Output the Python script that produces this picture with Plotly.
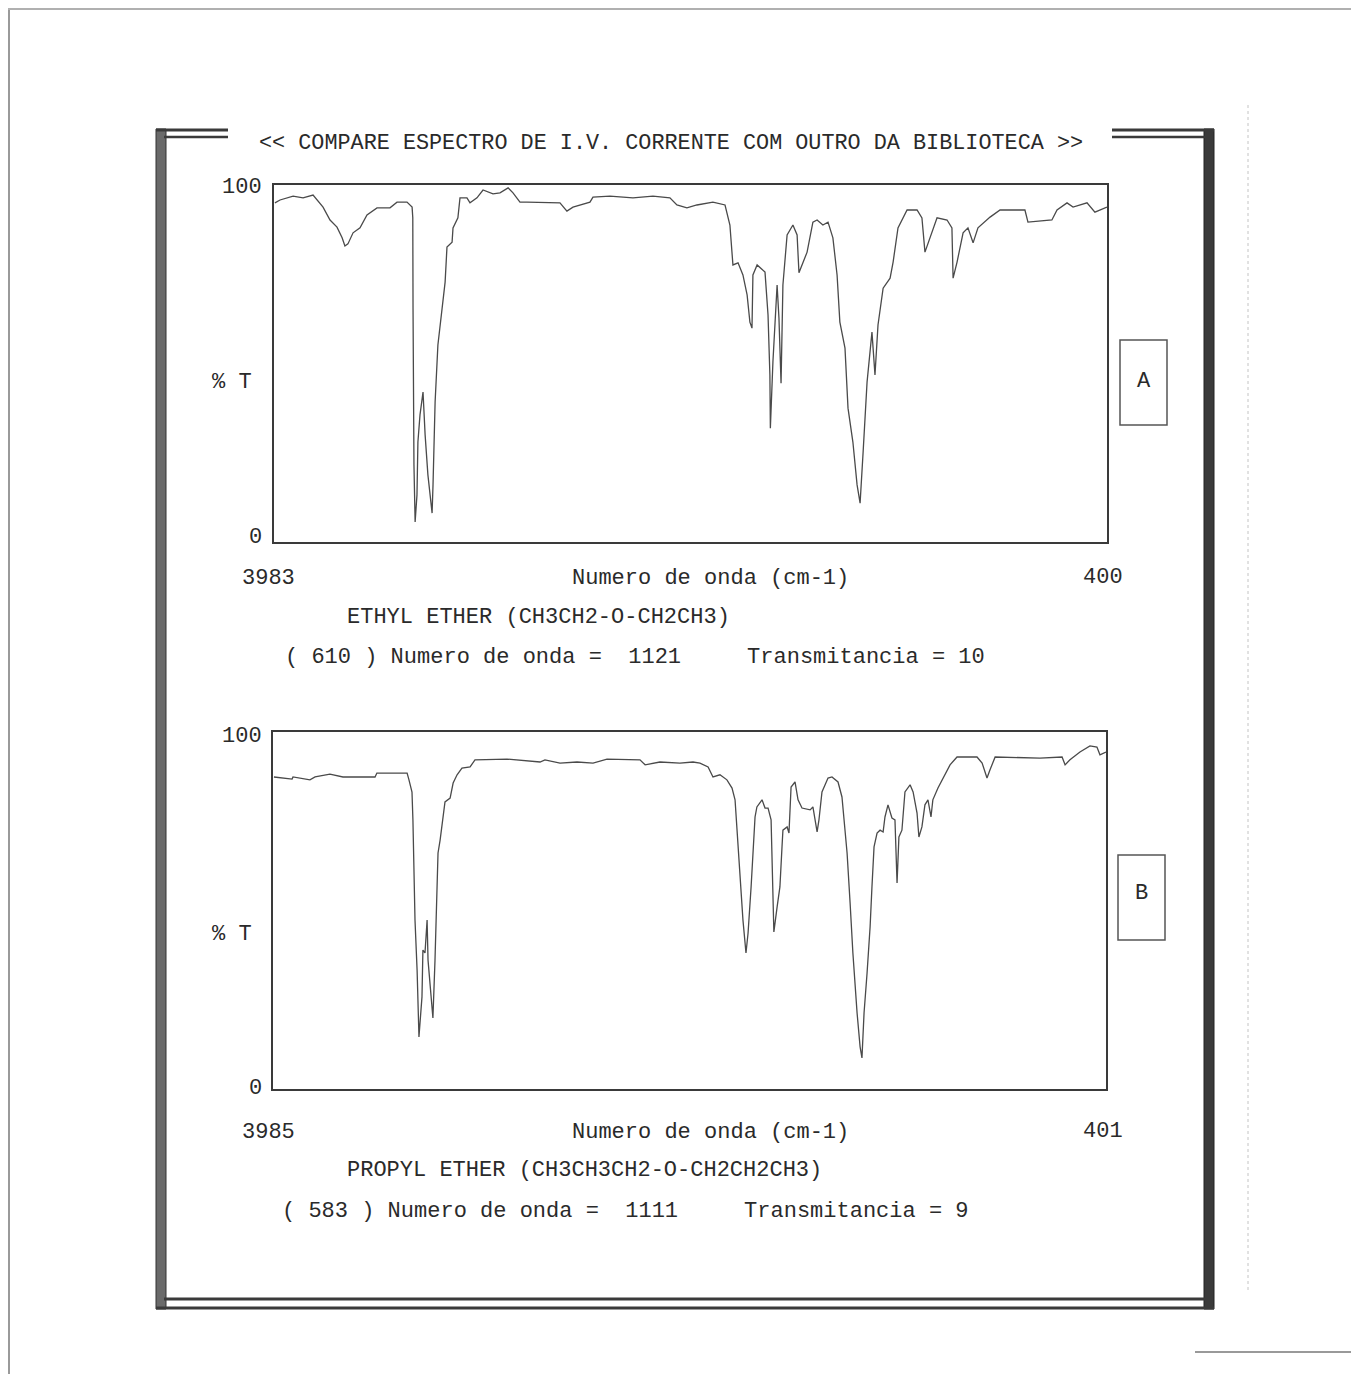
import plotly.graph_objects as go

# ---------------- data ----------------
wn_a = [3979, 3957, 3901, 3858, 3815, 3798, 3772, 3742, 3712, 3690, 3678, 3665, 3643, 3613,
        3583, 3540, 3484, 3454, 3411, 3389, 3386, 3385, 3384, 3381, 3376, 3368, 3364, 3355,
        3342, 3333, 3321, 3303, 3299, 3290, 3278, 3260, 3247, 3239, 3217, 3213, 3192, 3183,
        3153, 3140, 3110, 3084, 3041, 3011, 2976, 2955, 2925, 2895, 2753, 2723, 2697, 2624,
        2611, 2538, 2482, 2439, 2353, 2280, 2250, 2207, 2164, 2095, 2043, 2022, 2009, 1987,
        1966, 1948, 1936, 1927, 1923, 1905, 1871, 1858, 1850, 1848, 1837, 1819, 1811, 1802,
        1794, 1776, 1751, 1733, 1725, 1708, 1690, 1665, 1647, 1622, 1600, 1579, 1561, 1549,
        1527, 1514, 1493, 1475, 1462, 1449, 1432, 1411, 1398, 1385, 1363, 1333, 1320, 1299,
        1260, 1217, 1196, 1183, 1161, 1131, 1088, 1067, 1062, 1045, 1019, 998, 976, 955,
        903, 860, 753, 740, 637, 615, 572, 546, 486, 452, 400]
t_a = [95.0, 95.8, 96.9, 96.4, 97.2, 95.8, 93.8, 90.2, 88.2, 85.2, 82.9, 83.5, 86.6, 88.0,
       91.6, 93.6, 93.6, 95.2, 95.2, 93.8, 90.8, 65.5, 44.8, 21.6, 5.6, 13.2, 28.0, 35.6,
       42.0, 30.0, 18.8, 8.1, 16.0, 39.2, 55.2, 65.5, 72.8, 82.6, 84.0, 88.0, 90.8, 96.4,
       96.4, 95.0, 96.4, 98.6, 97.5, 97.8, 99.2, 97.8, 95.2, 95.2, 95.0, 92.7, 93.8, 95.2,
       96.6, 96.9, 96.6, 96.4, 96.9, 96.4, 94.4, 93.6, 94.4, 95.2, 94.4, 88.8, 77.6, 78.2,
       74.8, 69.2, 61.6, 59.9, 74.8, 77.6, 75.6, 63.6, 46.8, 31.9, 50.4, 72.0, 62.7, 44.5,
       72.0, 86.0, 88.8, 86.0, 75.4, 78.4, 81.2, 89.6, 90.2, 88.8, 89.6, 85.2, 74.8, 61.6,
       54.3, 37.5, 28.0, 16.0, 10.9, 25.2, 44.8, 58.8, 46.8, 60.8, 71.1, 73.9, 78.4, 88.0,
       93.0, 93.0, 90.8, 81.2, 85.2, 90.8, 90.2, 88.0, 73.9, 78.4, 86.6, 88.0, 83.8, 88.0,
       91.0, 93.0, 93.0, 89.6, 90.2, 93.0, 95.0, 93.8, 95.0, 92.4, 93.8]

wn_b = [3981, 3903, 3899, 3826, 3804, 3740, 3684, 3546, 3538, 3408, 3400, 3387, 3383, 3378,
        3374, 3365, 3361, 3357, 3344, 3340, 3331, 3322, 3318, 3305, 3297, 3288, 3279, 3275,
        3266, 3254, 3245, 3223, 3210, 3193, 3172, 3137, 3116, 2978, 2836, 2815, 2750, 2677,
        2608, 2548, 2406, 2384, 2320, 2234, 2178, 2148, 2113, 2092, 2062, 2032, 2010, 1997,
        1989, 1976, 1963, 1950, 1941, 1928, 1920, 1911, 1903, 1881, 1868, 1855, 1842, 1838,
        1834, 1830, 1816, 1804, 1795, 1791, 1773, 1765, 1756, 1739, 1726, 1709, 1674, 1662,
        1644, 1636, 1623, 1597, 1580, 1554, 1537, 1524, 1515, 1502, 1490, 1472, 1459, 1451,
        1442, 1429, 1416, 1408, 1399, 1386, 1373, 1360, 1352, 1339, 1322, 1309, 1300, 1292,
        1279, 1266, 1244, 1231, 1214, 1206, 1193, 1180, 1167, 1154, 1146, 1124, 1094, 1072,
        1042, 956, 934, 913, 900, 878, 685, 590, 577, 556, 513, 470, 440, 427, 401]
t_b = [87.4, 86.8, 87.4, 86.6, 87.4, 88.2, 87.4, 87.4, 88.5, 88.5, 86.6, 83.2, 75.4, 61.3,
       47.3, 33.3, 23.0, 14.6, 25.8, 38.9, 38.1, 47.3, 36.1, 25.8, 19.9, 36.1, 53.8, 66.1,
       69.7, 76.2, 80.4, 81.5, 85.7, 88.0, 89.9, 90.2, 92.2, 92.4, 91.6, 92.2, 91.3, 91.6,
       91.3, 92.4, 92.2, 90.8, 91.6, 91.3, 91.6, 91.3, 90.2, 87.4, 88.0, 86.6, 84.3, 81.0,
       73.4, 61.3, 47.3, 38.1, 43.7, 56.6, 67.8, 76.2, 79.0, 81.0, 78.7, 78.7, 75.4, 64.1,
       47.3, 44.0, 51.0, 56.6, 67.8, 72.5, 73.4, 71.7, 84.6, 86.0, 81.0, 78.7, 78.2, 79.0,
       72.0, 75.4, 83.2, 87.1, 87.4, 86.0, 81.8, 72.5, 66.1, 52.1, 38.1, 21.3, 11.8, 8.7,
       21.3, 32.5, 45.4, 56.6, 67.8, 71.7, 72.5, 72.0, 76.2, 79.6, 75.9, 75.4, 57.7, 70.6,
       72.5, 83.2, 85.2, 83.2, 77.3, 70.6, 73.4, 79.6, 81.0, 76.2, 81.0, 84.3, 88.0, 90.8,
       93.0, 93.0, 91.3, 87.1, 89.4, 93.0, 92.7, 93.0, 90.8, 92.2, 94.4, 96.1, 95.8, 93.6, 94.4]

range_a = [3983, 400]
range_b = [3985, 401]
title_text = "<< COMPARE ESPECTRO DE I.V. CORRENTE COM OUTRO DA BIBLIOTECA >>"
name_a = "ETHYL ETHER (CH3CH2-O-CH2CH3)"
name_b = "PROPYL ETHER (CH3CH3CH2-O-CH2CH2CH3)"
info_a = "( 610 ) Numero de onda =  1121     Transmitancia = 10"
info_b = "( 583 ) Numero de onda =  1111     Transmitancia = 9"
xlabel = "Numero de onda (cm-1)"
ylabel = "% T"
box_a = "A"
box_b = "B"

# ---------------- layout helpers ----------------
# the page body has an 8px margin, so the figure starts at (8, 8) on screen
OFF = 8
W, H = 1359 - OFF, 1374 - OFF
def px(x):
    return (x - OFF) / W
def py(y):
    return 1 - (y - OFF) / H

FONT = "Liberation Mono"
INK = "#2a2a2a"
LINE = "#3a3a3a"

fig = go.Figure()
fig.add_trace(go.Scatter(x=wn_a, y=t_a, mode="lines", line=dict(color="#4a4a4a", width=1.3),
                         xaxis="x", yaxis="y", showlegend=False, hoverinfo="skip"))
fig.add_trace(go.Scatter(x=wn_b, y=t_b, mode="lines", line=dict(color="#4a4a4a", width=1.3),
                         xaxis="x2", yaxis="y2", showlegend=False, hoverinfo="skip"))

ax_common = dict(showgrid=False, zeroline=False, showticklabels=False, ticks="",
                 showline=True, mirror=True, linecolor=LINE, linewidth=2)

fig.update_layout(
    width=W, height=H,
    margin=dict(l=0, r=0, t=0, b=0),
    paper_bgcolor="white", plot_bgcolor="white",
    xaxis=dict(domain=[px(274), px(1107)], range=range_a, anchor="y", **ax_common),
    yaxis=dict(domain=[py(542), py(185)], range=[0, 100], anchor="x", **ax_common),
    xaxis2=dict(domain=[px(273), px(1106)], range=range_b, anchor="y2", **ax_common),
    yaxis2=dict(domain=[py(1089), py(732)], range=[0, 100], anchor="x2", **ax_common),
)

ann = []
def text(x, y, s, size=22, xanchor="center"):
    ann.append(dict(x=px(x), y=py(y), xref="paper", yref="paper", text=s, showarrow=False,
                    xanchor=xanchor, yanchor="middle",
                    font=dict(family=FONT, size=size, color=INK)))

text(671, 143, title_text.replace("<", "&lt;").replace(">", "&gt;"), size=21.8)
# panel A texts
text(264, 187, "100", xanchor="right")
text(264, 537, "0", xanchor="right")
text(232, 383, ylabel)
text(268, 578, str(range_a[0]))
text(710, 578, xlabel)
text(1103, 577, str(range_a[1]))
text(345, 618, name_a, xanchor="left")
text(283, 657, info_a, xanchor="left")
text(1144, 381, box_a)
# panel B texts
text(264, 736, "100", xanchor="right")
text(264, 1088, "0", xanchor="right")
text(232, 935, ylabel)
text(268, 1132, str(range_b[0]))
text(710, 1132, xlabel)
text(1103, 1131, str(range_b[1]))
text(345, 1170, name_b, xanchor="left")
text(280, 1211, info_b, xanchor="left")
text(1141, 893, box_b)
fig.update_layout(annotations=ann)

shapes = []
def line(x0, y0, x1, y1, color=LINE, width=3, dash="solid"):
    shapes.append(dict(type="line", xref="paper", yref="paper",
                       x0=px(x0), y0=py(y0), x1=px(x1), y1=py(y1),
                       line=dict(color=color, width=width, dash=dash)))
def rect(x0, y0, x1, y1, fill=None, color=LINE, width=2):
    shapes.append(dict(type="rect", xref="paper", yref="paper",
                       x0=px(x0), y0=py(y0), x1=px(x1), y1=py(y1),
                       fillcolor=fill if fill else "rgba(0,0,0,0)",
                       line=dict(color=color, width=width)))

# double frame
rect(156, 129, 166, 1309, fill="#6a6a6a", color="#333", width=1)
rect(1204, 129, 1214, 1309, fill="#3a3a3a", color="#222", width=1)
line(156, 130, 228, 130)
line(164, 137, 228, 137, width=2.5)
line(1112, 130, 1214, 130)
line(1112, 137, 1205, 137, width=2.5)
line(164, 1299, 1205, 1299)
line(156, 1308, 1214, 1308)
# labelled boxes
rect(1120, 340, 1167, 425, color="#555", width=1.5)
rect(1118, 855, 1165, 940, color="#555", width=1.5)
# scan edges
line(9, 8, 9, 1374, color="#9a9a9a", width=2)
line(8, 9, 1359, 9, color="#b0b0b0", width=2)
line(1248, 105, 1248, 1290, color="#c4c4c4", width=1, dash="dot")
line(1195, 1352, 1359, 1352, color="#999", width=2)
fig.update_layout(shapes=shapes)

fig.write_html("out.html")
